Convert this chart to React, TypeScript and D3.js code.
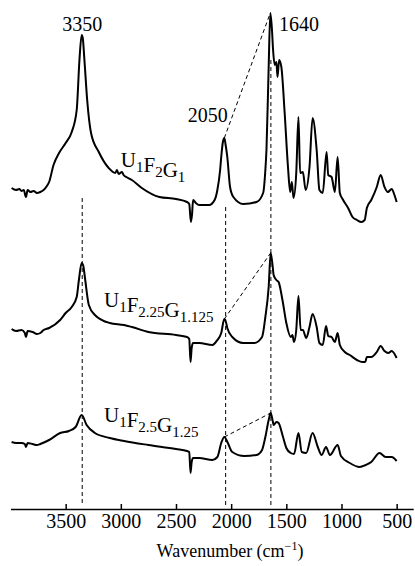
import React, { useRef, useEffect } from 'react';
import * as d3 from 'd3';

// wavenumber (cm-1) grid for each spectrum, and stacked intensity (a.u.)
const topWave = [3990, 3950, 3920, 3900, 3880, 3860, 3845, 3820, 3790, 3760, 3730, 3700, 3670, 3650, 3610, 3560, 3500, 3445, 3400, 3375, 3355, 3345, 3330, 3305, 3270, 3200, 3110, 3050, 3035, 3020, 2990, 2975, 2950, 2900, 2810, 2650, 2500, 2400, 2380, 2365, 2355, 2345, 2320, 2290, 2200, 2150, 2125, 2100, 2090, 2075, 2062, 2050, 2035, 2010, 1980, 1890, 1770, 1710, 1690, 1680, 1660, 1645, 1630, 1620, 1605, 1590, 1580, 1565, 1545, 1515, 1485, 1465, 1450, 1435, 1410, 1390, 1375, 1350, 1325, 1290, 1262, 1225, 1200, 1170, 1135, 1120, 1090, 1060, 1035, 1015, 985, 940, 900, 860, 820, 790, 770, 730, 680, 645, 610, 580, 545, 520, 500];
const topVals = [322, 320, 321, 319, 320, 313, 320, 318, 319, 317, 318, 320, 324, 328, 345, 357, 367, 378, 400, 450, 475, 472, 450, 410, 377, 358, 342, 337, 340, 336, 338, 335, 333, 330, 322, 313, 311, 308, 306, 288, 295, 310, 307, 305, 305, 310, 320, 340, 353, 368, 372, 365, 353, 323, 313, 306, 308, 317, 340, 360, 443, 497, 480, 460, 445, 448, 433, 450, 443, 397, 343, 318, 328, 312, 337, 393, 337, 338, 320, 343, 392, 360, 320, 317, 358, 335, 333, 318, 353, 317, 310, 302, 293, 290, 288, 290, 302, 310, 323, 335, 323, 318, 321, 315, 308];

const midWave = [3990, 3950, 3900, 3870, 3860, 3845, 3800, 3760, 3730, 3700, 3650, 3550, 3500, 3445, 3400, 3380, 3355, 3340, 3325, 3290, 3235, 3100, 2970, 2900, 2750, 2500, 2400, 2380, 2368, 2358, 2345, 2290, 2170, 2125, 2090, 2062, 2045, 2035, 1990, 1890, 1790, 1720, 1690, 1660, 1642, 1625, 1615, 1590, 1570, 1535, 1500, 1460, 1445, 1430, 1410, 1390, 1370, 1350, 1320, 1290, 1262, 1225, 1200, 1170, 1140, 1120, 1090, 1060, 1035, 1015, 970, 925, 860, 810, 785, 770, 730, 680, 645, 610, 575, 545, 500];
const midVals = [181, 179, 180, 177, 173, 179, 178, 176, 177, 180, 182, 190, 197, 203, 213, 230, 247, 244, 232, 205, 195, 187, 185, 183, 178, 175, 173, 171, 148, 162, 167, 167, 165, 170, 177, 191, 187, 182, 173, 167, 167, 173, 193, 223, 257, 245, 235, 230, 228, 210, 187, 173, 175, 168, 180, 214, 180, 180, 172, 183, 196, 183, 167, 165, 184, 174, 173, 168, 177, 165, 158, 155, 150, 148, 148, 153, 153, 158, 164, 159, 157, 159, 152];

const lowWave = [3990, 3950, 3900, 3870, 3860, 3845, 3800, 3760, 3730, 3650, 3550, 3470, 3410, 3355, 3310, 3235, 3100, 2970, 2750, 2500, 2400, 2380, 2368, 2358, 2345, 2290, 2170, 2125, 2090, 2062, 2030, 1990, 1880, 1770, 1720, 1690, 1660, 1642, 1625, 1615, 1590, 1570, 1535, 1500, 1460, 1430, 1390, 1360, 1320, 1262, 1215, 1180, 1140, 1105, 1035, 1005, 925, 835, 780, 730, 655, 600, 545, 500];
const lowVals = [68, 67, 67, 66, 63, 67, 66, 65, 66, 70, 77, 79, 83, 95, 85, 77, 72, 69, 65, 61, 59, 58, 37, 48, 52, 52, 50, 53, 67, 73, 67, 58, 54, 55, 60, 73, 90, 97, 90, 85, 88, 87, 75, 62, 57, 56, 77, 58, 57, 77, 63, 55, 63, 55, 65, 54, 47, 43, 45, 48, 57, 53, 53, 49];

const xTicks = [3500, 3000, 2500, 2000, 1500, 1000, 500];
const markedPeaks = [3350, 2050, 1640];
const markTop = [312, 303, 450]; // where each dashed guide starts (a.u.)

const App = () => {
  const svgRef = useRef<SVGSVGElement>(null);

  useEffect(() => {
    const svg = d3.select(svgRef.current);
    svg.selectAll('*').remove();
    const width = 415;
    const height = 566;
    const axisY = 509;
    const font = '"Liberation Serif", "Times New Roman", serif';

    const x = d3.scaleLinear().domain([4000, 350]).range([10.5, 413.2]);
    const y = d3.scaleLinear().domain([0, 500]).range([510, 10]);

    const series = [
      { waves: topWave, vals: topVals },
      { waves: midWave, vals: midVals },
      { waves: lowWave, vals: lowVals },
    ];

    const line = d3.line<[number, number]>()
      .x(d => x(d[0]))
      .y(d => y(d[1]))
      .curve(d3.curveMonotoneX);

    // vertical dashed guides
    markedPeaks.forEach((w, i) => {
      svg.append('line')
        .attr('x1', x(w)).attr('x2', x(w))
        .attr('y1', y(markTop[i])).attr('y2', y(4))
        .attr('stroke', '#000')
        .attr('stroke-width', 1)
        .attr('stroke-dasharray', '4,3');
    });

    const peakNear = (s, target) => {
      let best = -1;
      s.waves.forEach((w, i) => {
        if (Math.abs(w - target) <= 25 && (best < 0 || s.vals[i] > s.vals[best])) best = i;
      });
      return [s.waves[best], s.vals[best]];
    };

    series.forEach(s => {
      const a = peakNear(s, 2050);
      const b = peakNear(s, 1640);
      svg.append('line')
        .attr('x1', x(a[0])).attr('y1', y(a[1]))
        .attr('x2', x(b[0])).attr('y2', y(b[1]))
        .attr('stroke', '#000')
        .attr('stroke-width', 1)
        .attr('stroke-dasharray', '4,3');

      svg.append('path')
        .datum(s.waves.map((w, i) => [w, s.vals[i]] as [number, number]))
        .attr('fill', 'none')
        .attr('stroke', '#000')
        .attr('stroke-width', 2)
        .attr('stroke-linejoin', 'round')
        .attr('d', line);
    });

    const xAxis = d3.axisBottom(x)
      .tickValues(xTicks)
      .tickSizeInner(-5)
      .tickSizeOuter(0)
      .tickPadding(5)
      .tickFormat(d => String(d));

    const g = svg.append('g')
      .attr('transform', `translate(0,${axisY})`)
      .call(xAxis);
    g.select('.domain').attr('stroke-width', 1.5);
    g.selectAll('.tick line').attr('stroke-width', 1.5);
    g.selectAll('text')
      .style('font-family', font)
      .style('font-size', '20px')
      .attr('fill', '#000');

    const title = svg.append('text')
      .attr('x', 230)
      .attr('y', 557)
      .attr('text-anchor', 'middle')
      .style('font-family', font)
      .style('font-size', '18px');
    title.append('tspan').text('Wavenumber (cm');
    title.append('tspan').attr('dy', -7).style('font-size', '12px').text('\u22121');
    title.append('tspan').attr('dy', 7).text(')');

    const label = (tx, ty, anchor, txt) => {
      svg.append('text')
        .attr('x', tx).attr('y', ty)
        .attr('text-anchor', anchor)
        .style('font-family', font)
        .style('font-size', '20px')
        .text(txt);
    };
    label(x(3350), 31, 'middle', '3350');
    label(x(1640) + 8, 31, 'start', '1640');
    label(x(2050) + 2, 122, 'end', '2050');

    const formula = (tx, ty, parts) => {
      const t = svg.append('text')
        .attr('x', tx).attr('y', ty)
        .style('font-family', font)
        .style('font-size', '21px');
      parts.forEach(([main, sub]) => {
        t.append('tspan').attr('dy', 0).text(main);
        t.append('tspan').attr('dy', 5).style('font-size', '15px').text(sub);
        t.append('tspan').attr('dy', -5).text('');
      });
    };
    formula(x(3000), 167, [['U', '1'], ['F', '2'], ['G', '1']]);
    formula(104, 307, [['U', '1'], ['F', '2.25'], ['G', '1.125']]);
    formula(104, 422, [['U', '1'], ['F', '2.5'], ['G', '1.25']]);

    svg.attr('width', width).attr('height', height);
  }, []);

  return (
    <div style={{ position: 'absolute', left: 0, top: 0, width: 415, height: 566, background: '#fff' }}>
      <svg ref={svgRef} width={415} height={566} style={{ display: 'block' }} />
    </div>
  );
};

export default App;
